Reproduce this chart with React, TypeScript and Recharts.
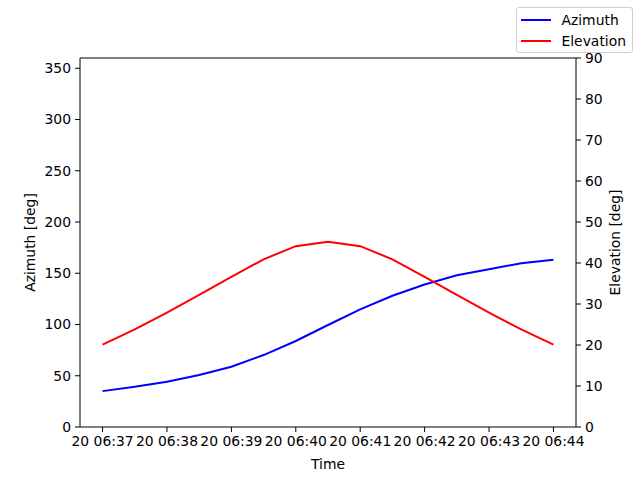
import {
  LineChart,
  Line,
  XAxis,
  YAxis,
  Legend,
  ReferenceLine,
} from "recharts";

// seconds after 06:37:00 on day 20
const timeSec = [0, 30, 60, 90, 120, 150, 180, 210, 240, 270, 300, 330, 360, 390, 420];
const azimuth = [35, 39.3, 44.2, 50.7, 58.8, 70.2, 83.9, 99.5, 114.8, 128, 139, 148, 154, 159.7, 163.2];
const elevation = [20.1, 23.8, 27.9, 32.2, 36.6, 40.9, 44.1, 45.2, 44.1, 40.9, 36.6, 32.2, 27.9, 23.8, 20.1];

const xTicks = [0, 60, 120, 180, 240, 300, 360, 420];
const azTicks = [0, 50, 100, 150, 200, 250, 300, 350];
const elTicks = [0, 10, 20, 30, 40, 50, 60, 70, 80, 90];

const data = timeSec.map((t, i) => ({ t, az: azimuth[i], el: elevation[i] }));

const font = "'DejaVu Sans', sans-serif";
const tickStyle = { fill: "#000", fontSize: 13.9, fontFamily: font };

const fmtTime = (s: number) => {
  const m = 37 + Math.round(s / 60);
  return `20 06:${String(m).padStart(2, "0")}`;
};

function LegendBox({ payload }: { payload?: { value: string; color: string }[] }) {
  if (!payload) return null;
  return (
    <div
      style={{
        border: "1px solid #d0d0d0",
        borderRadius: 3,
        background: "rgba(255,255,255,0.8)",
        padding: "1px 6px 1px 4px",
        fontFamily: font,
        fontSize: 13.9,
      }}
    >
      {payload.map((p) => (
        <div key={p.value} style={{ display: "flex", alignItems: "center", height: 21 }}>
          <span style={{ display: "inline-block", width: 30, borderTop: `2px solid ${p.color}`, marginRight: 10 }} />
          <span>{p.value}</span>
        </div>
      ))}
    </div>
  );
}

export default function App() {
  return (
    <div style={{ position: "absolute", left: 0, top: 0, width: 640, height: 480, background: "#fff" }}>
      <LineChart
        width={640}
        height={480}
        data={data}
        margin={{ top: 58, right: 14, left: 20, bottom: 8 }}
      >
        <XAxis
          dataKey="t"
          type="number"
          domain={[-21, 441]}
          ticks={xTicks}
          interval={0}
          tickFormatter={fmtTime}
          tick={tickStyle}
          tickSize={5}
          tickMargin={4}
          stroke="#000"
          height={45}
          allowDataOverflow
          label={{ value: "Time", position: "insideBottom", offset: 3, style: { fill: "#000", fontSize: 13.9, fontFamily: font } }}
        />
        <YAxis
          yAxisId="left"
          domain={[0, 360]}
          ticks={azTicks}
          interval={0}
          tick={tickStyle}
          tickSize={5}
          tickMargin={4}
          stroke="#000"
          width={60}
          allowDataOverflow
          label={{
            value: "Azimuth [deg]",
            angle: -90,
            position: "insideLeft",
            offset: 10,
            style: { textAnchor: "middle", fill: "#000", fontSize: 13.9, fontFamily: font },
          }}
        />
        <YAxis
          yAxisId="right"
          orientation="right"
          domain={[0, 90]}
          ticks={elTicks}
          interval={0}
          tick={tickStyle}
          tickSize={5}
          tickMargin={4}
          stroke="#000"
          width={50}
          allowDataOverflow
          label={{
            value: "Elevation [deg]",
            angle: -90,
            position: "insideRight",
            offset: 11,
            style: { textAnchor: "middle", fill: "#000", fontSize: 13.9, fontFamily: font },
          }}
        />
        <ReferenceLine yAxisId="left" y={360} stroke="#000" strokeWidth={1} />
        <Legend
          layout="horizontal"
          verticalAlign="middle"
          align="center"
          content={<LegendBox />}
          wrapperStyle={{ top: 7, right: 7, left: "auto", bottom: "auto", width: "auto" }}
        />
        <Line
          yAxisId="left"
          dataKey="az"
          name="Azimuth"
          stroke="#0000ff"
          strokeWidth={2}
          dot={false}
          isAnimationActive={false}
          type="linear"
        />
        <Line
          yAxisId="right"
          dataKey="el"
          name="Elevation"
          stroke="#ff0000"
          strokeWidth={2}
          dot={false}
          isAnimationActive={false}
          type="linear"
        />
      </LineChart>
    </div>
  );
}
